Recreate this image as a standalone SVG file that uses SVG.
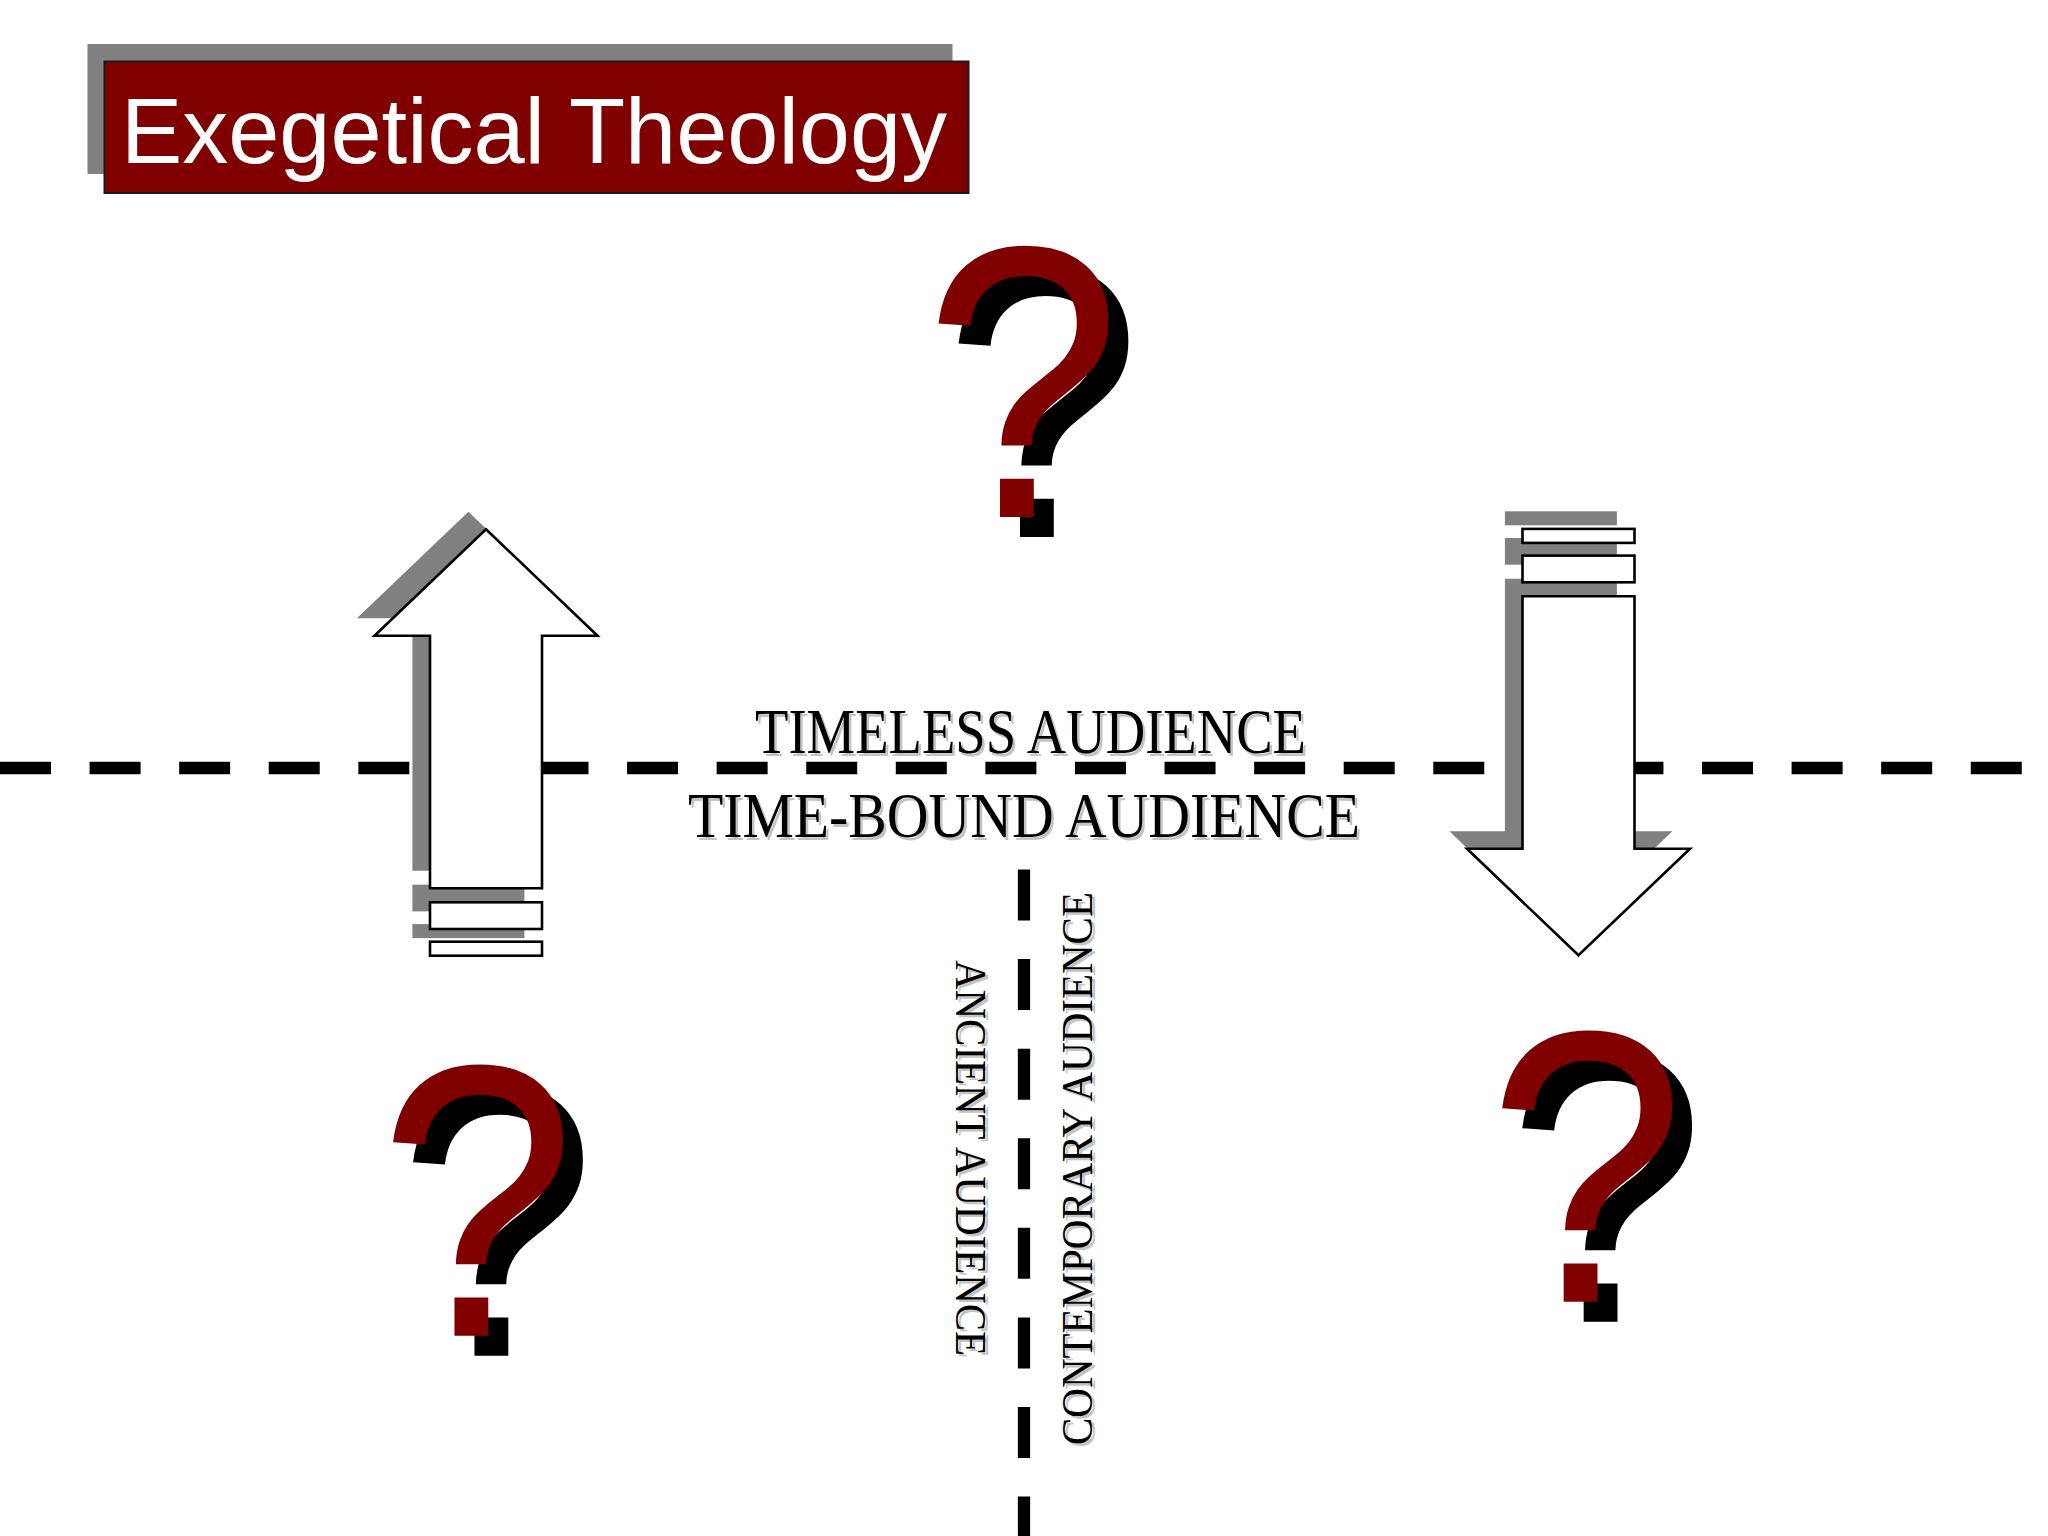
<svg xmlns="http://www.w3.org/2000/svg" xmlns:xlink="http://www.w3.org/1999/xlink" width="2048" height="1536" viewBox="0 0 2048 1536">
<style>
.dash{stroke:#000;stroke-width:12.3;stroke-dasharray:51 38.58;fill:none}
.shadow{fill:#808080;stroke:none}
.arrow{fill:#fff;stroke:#000;stroke-width:2.6;stroke-linejoin:miter}
.q{font-family:"Liberation Sans",Arial,sans-serif;font-size:370px}
.qred{fill:#800000}
.qblk{fill:#000}
.lab{font-family:"Liberation Serif","Times New Roman",serif;fill:#000}
.labsh{font-family:"Liberation Serif","Times New Roman",serif;fill:#c4c4c4}
.h{font-size:64px}
.v{font-size:45px}
</style>
<defs>
<g id="arrowShape">
<path d="M0,0 L111.5,106.5 L56,106.5 L56,359 L-56,359 L-56,106.5 L-111.5,106.5 Z"/>
<rect x="-56" y="373" width="112" height="26.7"/>
<rect x="-56" y="412.4" width="112" height="14"/>
</g>
</defs>
<rect width="2048" height="1536" fill="#fff"/>

<g id="dividers">
<line class="dash" x1="0" y1="768" x2="2048" y2="768"/>
<line class="dash" x1="1024" y1="869.5" x2="1024" y2="1536"/>
</g>

<g id="title">
<rect x="87.5" y="44" width="865" height="130" fill="#808080"/>
<rect x="104.5" y="61.5" width="864" height="131.5" fill="#800000" stroke="#1a1a1a" stroke-width="2"/>
<text x="121" y="163" font-family="'Liberation Sans',Arial,sans-serif" font-size="92" fill="#fff" textLength="826" lengthAdjust="spacingAndGlyphs">Exegetical Theology</text>
</g>

<g id="arrow-up">
<g transform="translate(-17.6,-17.6)"><use xlink:href="#arrowShape" class="shadow" transform="translate(486,529.3)"/></g>
<use xlink:href="#arrowShape" class="arrow" transform="translate(486,529.3)"/>
</g>

<g id="arrow-down">
<g transform="translate(-17.6,-17.6)"><use xlink:href="#arrowShape" class="shadow" transform="translate(1578.5,955.3) rotate(180)"/></g>
<use xlink:href="#arrowShape" class="arrow" transform="translate(1578.5,955.3) rotate(180)"/>
</g>

<g id="q-top">
<text class="q qblk" transform="translate(944,537) scale(0.96,1.05)">?</text>
<text class="q qred" transform="translate(924,517) scale(0.96,1.05)">?</text>
</g>
<g id="q-left">
<text class="q qblk" transform="translate(398.5,1355.7) scale(0.96,1.05)">?</text>
<text class="q qred" transform="translate(378.5,1335.7) scale(0.96,1.05)">?</text>
</g>
<g id="q-right">
<text class="q qblk" transform="translate(1507.7,1321.7) scale(0.96,1.05)">?</text>
<text class="q qred" transform="translate(1487.7,1301.7) scale(0.96,1.05)">?</text>
</g>

<g id="label-timeless">
<text class="labsh h" x="757.5" y="755.5" textLength="551" lengthAdjust="spacingAndGlyphs">TIMELESS AUDIENCE</text>
<text class="lab h" x="755" y="753" textLength="551" lengthAdjust="spacingAndGlyphs">TIMELESS AUDIENCE</text>
</g>
<g id="label-timebound">
<text class="labsh h" x="690.5" y="839.5" textLength="672" lengthAdjust="spacingAndGlyphs">TIME-BOUND AUDIENCE</text>
<text class="lab h" x="688" y="837" textLength="672" lengthAdjust="spacingAndGlyphs">TIME-BOUND AUDIENCE</text>
</g>
<g id="label-ancient">
<text class="labsh v" transform="translate(958.5,962.5) rotate(90)" x="0" y="0" textLength="396" lengthAdjust="spacingAndGlyphs">ANCIENT AUDIENCE</text>
<text class="lab v" transform="translate(956,960) rotate(90)" x="0" y="0" textLength="396" lengthAdjust="spacingAndGlyphs">ANCIENT AUDIENCE</text>
</g>
<g id="label-contemporary">
<text class="labsh v" transform="translate(1094.5,1447.5) rotate(-90)" x="0" y="0" textLength="553" lengthAdjust="spacingAndGlyphs">CONTEMPORARY AUDIENCE</text>
<text class="lab v" transform="translate(1092,1445) rotate(-90)" x="0" y="0" textLength="553" lengthAdjust="spacingAndGlyphs">CONTEMPORARY AUDIENCE</text>
</g>
</svg>
